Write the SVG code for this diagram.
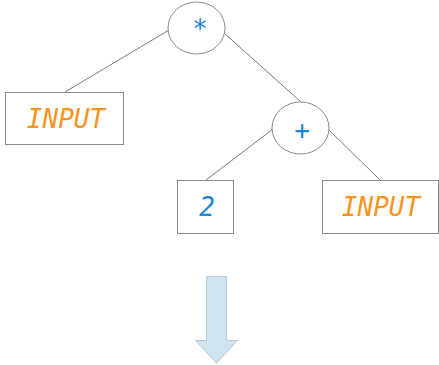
<svg xmlns="http://www.w3.org/2000/svg" width="439" height="365" viewBox="0 0 439 365">
  <style>
    .node { fill: #ffffff; stroke: #8a8a8a; stroke-width: 1; }
    .edge { stroke: #7a7a7a; stroke-width: 1; fill: none; }
    .lbl { font-family: "DejaVu Sans Mono", "Liberation Mono", monospace; font-style: italic; text-anchor: middle; }
    .op { fill: #1a86d8; font-size: 26px; }
    .num { fill: #1a86d8; font-size: 26px; }
    .inp { fill: #f7941d; font-size: 26px; }
  </style>
  <rect width="439" height="365" fill="#ffffff"/>
  <g id="connectors">
    <line class="edge" x1="169" y1="30" x2="65" y2="92"/>
    <line class="edge" x1="224" y1="33" x2="301" y2="102"/>
    <line class="edge" x1="273" y1="129" x2="206" y2="180"/>
    <line class="edge" x1="328" y1="129" x2="380" y2="180"/>
  </g>
  <g id="mul">
    <ellipse class="node" cx="196.5" cy="28" rx="28.5" ry="26"/>
    <text class="lbl op" x="200" y="38">*</text>
  </g>
  <g id="input-left">
    <rect class="node" x="5.5" y="92.5" width="118" height="52"/>
    <text class="lbl inp" x="66" y="128">INPUT</text>
  </g>
  <g id="plus">
    <ellipse class="node" cx="300.5" cy="128" rx="28.5" ry="26"/>
    <text class="lbl op" x="302" y="139">+</text>
  </g>
  <g id="two">
    <rect class="node" x="177.5" y="180.5" width="56" height="53"/>
    <text class="lbl num" x="207" y="216">2</text>
  </g>
  <g id="input-right">
    <rect class="node" x="322.5" y="180.5" width="116" height="53"/>
    <text class="lbl inp" x="381" y="216">INPUT</text>
  </g>
  <g id="down-arrow">
    <path d="M206.5 276.5 H226.5 V340.5 H237.5 L216.5 363 L195.5 340.5 H206.5 Z" fill="#cfe3f1" stroke="#b7c9d6" stroke-width="1"/>
  </g>
</svg>
